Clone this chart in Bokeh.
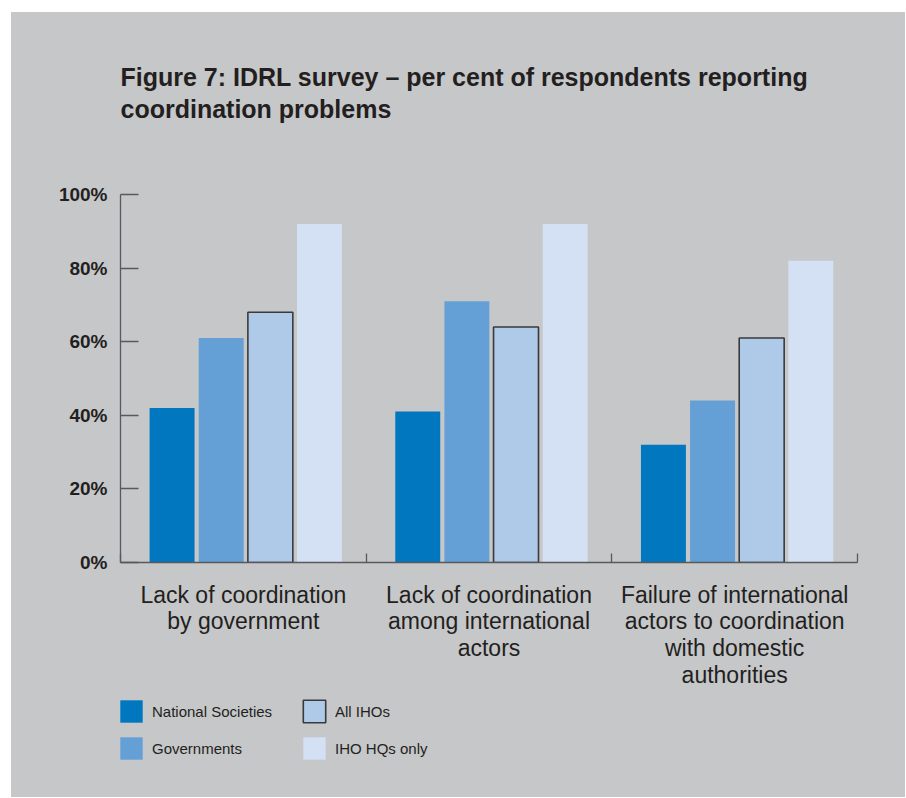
from bokeh.plotting import figure
from bokeh.layouts import column
from bokeh.models import ColumnDataSource, FixedTicker, Legend, LegendItem, Range1d
from bokeh.transform import dodge
from bokeh.embed import file_html
from bokeh.resources import INLINE

# ---- data ----
categories = [
    "Lack of coordination\nby government",
    "Lack of coordination\namong international\nactors",
    "Failure of international\nactors to coordination\nwith domestic\nauthorities",
]
series_names = ["National Societies", "Governments", "All IHOs", "IHO HQs only"]
national_societies = [42, 41, 32]
governments = [61, 71, 44]
all_ihos = [68, 64, 61]
iho_hqs_only = [92, 92, 82]
y_ticks = [0, 20, 40, 60, 80, 100]
y_tick_labels = ["0%", "20%", "40%", "60%", "80%", "100%"]

BG = "#c6c7c9"
TXT = "#231f20"
AX = "#58595b"
colors = ["#0077bf", "#64a0d6", "#afc9e9", "#d4e0f3"]
outlines = [None, None, "#3a3a3c", None]
offsets = [-0.29, -0.09, 0.11, 0.31]
bar_w = 0.183
cols = ["ns", "gov", "all", "hq"]

centers = [i + 0.5 for i in range(len(categories))]
source = ColumnDataSource(dict(
    x=centers,
    ns=national_societies,
    gov=governments,
    all=all_ihos,
    hq=iho_hqs_only,
))

# ---------------- main chart ----------------
p = figure(width=894, height=686, output_backend="svg", toolbar_location=None,
           x_range=Range1d(0, len(categories)), y_range=Range1d(0, 100),
           min_border_left=109, min_border_right=48, min_border_top=182,
           min_border_bottom=136)
p.background_fill_color = BG
p.border_fill_color = BG
p.outline_line_color = None
p.grid.visible = False

for col, off, c, oc in zip(cols, offsets, colors, outlines):
    p.vbar(x=dodge("x", off, range=p.x_range), top=col, bottom=0, width=bar_w,
           source=source, fill_color=c,
           line_color=oc if oc else None, line_width=1.6)

# title
p.title.text = ("Figure 7: IDRL survey \u2013 per cent of respondents reporting\n"
                "coordination problems\n\u00a0")
p.title.text_font = "Liberation Sans"
p.title.text_font_size = "25px"
p.title.text_font_style = "bold"
p.title.text_color = TXT
p.title.text_line_height = 1.12
p.title.vertical_align = "bottom"
p.title.standoff = 81
p.title.align = "left"

# y axis
ya = p.yaxis[0]
ya.ticker = FixedTicker(ticks=y_ticks)
ya.major_label_overrides = {t: l for t, l in zip(y_ticks, y_tick_labels)}
ya.major_tick_in = 18
ya.major_tick_out = 0
ya.minor_tick_line_color = None
ya.axis_line_color = AX
ya.major_tick_line_color = AX
ya.axis_line_width = 1.3
ya.major_tick_line_width = 1.3
ya.major_label_standoff = 13
ya.major_label_text_font = "Liberation Sans"
ya.major_label_text_font_style = "bold"
ya.major_label_text_font_size = "19px"
ya.major_label_text_color = TXT

# x axis
xa = p.xaxis[0]
xa.ticker = FixedTicker(ticks=centers, minor_ticks=list(range(len(categories) + 1)))
xa.major_label_overrides = {c: l for c, l in zip(centers, categories)}
xa.major_tick_line_color = None
xa.major_tick_in = 0
xa.major_tick_out = 0
xa.minor_tick_in = 9
xa.minor_tick_out = 0
xa.minor_tick_line_color = AX
xa.minor_tick_line_width = 1.3
xa.axis_line_color = AX
xa.axis_line_width = 1.3
xa.major_label_standoff = 19
xa.major_label_text_font = "Liberation Sans"
xa.major_label_text_font_size = "23px"
xa.major_label_text_color = TXT
xa.major_label_text_line_height = 1.035
xa.major_label_orientation = "horizontal"

# ---------------- legend strip ----------------
p2 = figure(width=894, height=99, output_backend="svg", toolbar_location=None,
            x_range=Range1d(0, len(categories)), y_range=Range1d(0, 100),
            x_axis_type=None, y_axis_type=None,
            min_border_left=109, min_border_right=48, min_border_top=0,
            min_border_bottom=0)
p2.background_fill_color = BG
p2.border_fill_color = BG
p2.outline_line_color = None
p2.grid.visible = False

legend_renderers = []
for col, off, c, oc in zip(cols, offsets, colors, outlines):
    r = p2.vbar(x=dodge("x", off, range=p2.x_range), top=col, bottom=0, width=bar_w,
                source=source, fill_color=c,
                line_color=oc if oc else None, line_width=1.6, visible=False)
    legend_renderers.append(r)

legend_order = [0, 2, 1, 3]  # row-major 2 x 2 grid
legend = Legend(items=[LegendItem(label=series_names[i], renderers=[legend_renderers[i]])
                       for i in legend_order],
                location=(-3, 35), orientation="horizontal", ncols=2,
                glyph_width=28, glyph_height=28, spacing=9, label_standoff=7,
                label_width=139, label_height=28, padding=0, margin=0,
                border_line_color=None, background_fill_alpha=0,
                inactive_fill_alpha=0,
                label_text_font="Liberation Sans", label_text_font_size="15px",
                label_text_color=TXT)
p2.add_layout(legend, "center")

layout = column(p, p2, spacing=0, margin=(12, 0, 0, 11),
                styles={"background-color": BG})
open("out.html", "w").write(file_html(layout, INLINE))
